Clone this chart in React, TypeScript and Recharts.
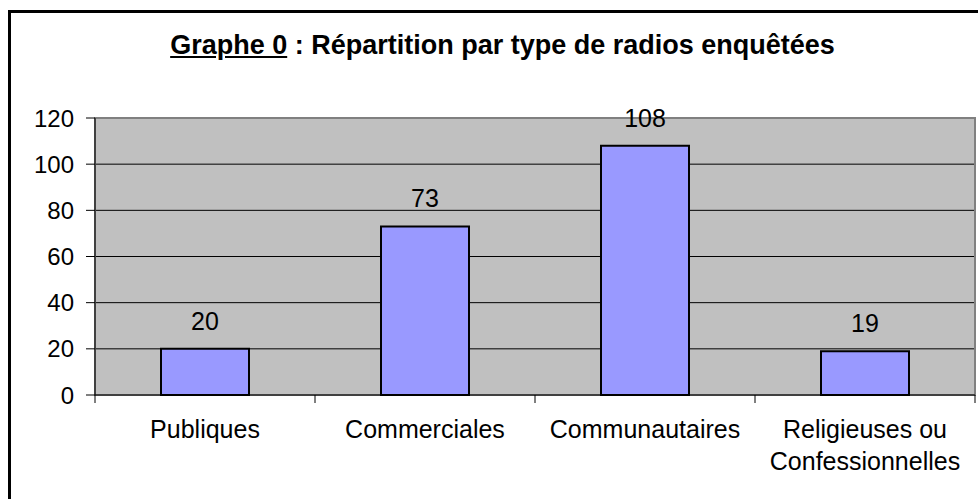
import React from "react";
import {
  Bar,
  BarChart,
  CartesianGrid,
  LabelList,
  ReferenceArea,
  XAxis,
  YAxis,
} from "recharts";

const categories = [
  "Publiques",
  "Commerciales",
  "Communautaires",
  "Religieuses ou\nConfessionnelles",
];
const radioCounts = [20, 73, 108, 19];
const yTicks = [0, 20, 40, 60, 80, 100, 120];

const data = categories.map((name, i) => ({ name, value: radioCounts[i] }));

const W = 978;
const H = 499;
const FONT = '"Liberation Sans", Arial, sans-serif';
// half of one category band: plot width 880 / 4 categories / 2
const HALF_BAND = 110;

function CategoryTick(props: any) {
  const { x, y, payload, index } = props;
  const lines = String(payload.value).split("\n");
  // y arrives below the hidden tick line; axis line sits 8px higher
  const axisY = y - 8;
  return (
    <g>
      <line x1={x + HALF_BAND} y1={axisY} x2={x + HALF_BAND} y2={axisY + 8} stroke="#000" />
      {index === 0 && (
        <line x1={x - HALF_BAND} y1={axisY} x2={x - HALF_BAND} y2={axisY + 8} stroke="#000" />
      )}
      <text x={x} y={axisY + 43} textAnchor="middle" fontSize={25} fill="#000" fontFamily={FONT}>
        {lines.map((l, i) => (
          <tspan key={i} x={x} dy={i === 0 ? 0 : 32}>
            {l}
          </tspan>
        ))}
      </text>
    </g>
  );
}

export default function App() {
  return (
    <div
      style={{
        position: "fixed",
        left: 0,
        top: 0,
        width: W,
        height: H,
        overflow: "hidden",
        background: "#fff",
        fontFamily: FONT,
      }}
    >
      {/* outer frame, cut by the picture at right and bottom */}
      <div
        style={{
          position: "absolute",
          left: 8,
          top: 10,
          width: 1100,
          height: 700,
          border: "3px solid #000",
        }}
      />
      <div
        style={{
          position: "absolute",
          left: 0,
          top: 32,
          width: 1005,
          textAlign: "center",
          fontSize: 27,
          lineHeight: "27px",
          fontWeight: "bold",
          color: "#000",
        }}
      >
        <span style={{ textDecoration: "underline" }}>Graphe 0</span> : Répartition par
        type de radios enquêtées
      </div>
      <div style={{ position: "absolute", left: 0, top: 0 }}>
        <BarChart
          width={W}
          height={H}
          data={data}
          margin={{ top: 118, right: 3, bottom: 0, left: 0 }}
          barCategoryGap="30%"
        >
          <CartesianGrid
            vertical={false}
            stroke="#000"
            fill="#C0C0C0"
            fillOpacity={1}
          />
          <ReferenceArea y1={0} y2={120} fill="none" stroke="#808080" strokeWidth={2} />
          <XAxis
            dataKey="name"
            height={104}
            interval={0}
            tickLine={false}
            axisLine={{ stroke: "#000" }}
            tick={<CategoryTick />}
          />
          <YAxis
            width={95}
            domain={[0, 120]}
            ticks={yTicks}
            interval={0}
            tickSize={9}
            tickMargin={12}
            axisLine={{ stroke: "#000" }}
            tickLine={{ stroke: "#000" }}
            tick={{ fill: "#000", fontSize: 24, fontFamily: FONT }}
          />
          <Bar
            dataKey="value"
            fill="#9999FF"
            stroke="#000"
            strokeWidth={2}
            isAnimationActive={false}
          >
            <LabelList
              dataKey="value"
              position="top"
              offset={19}
              style={{ fill: "#000", fontSize: 25, fontFamily: FONT }}
            />
          </Bar>
        </BarChart>
      </div>
    </div>
  );
}
